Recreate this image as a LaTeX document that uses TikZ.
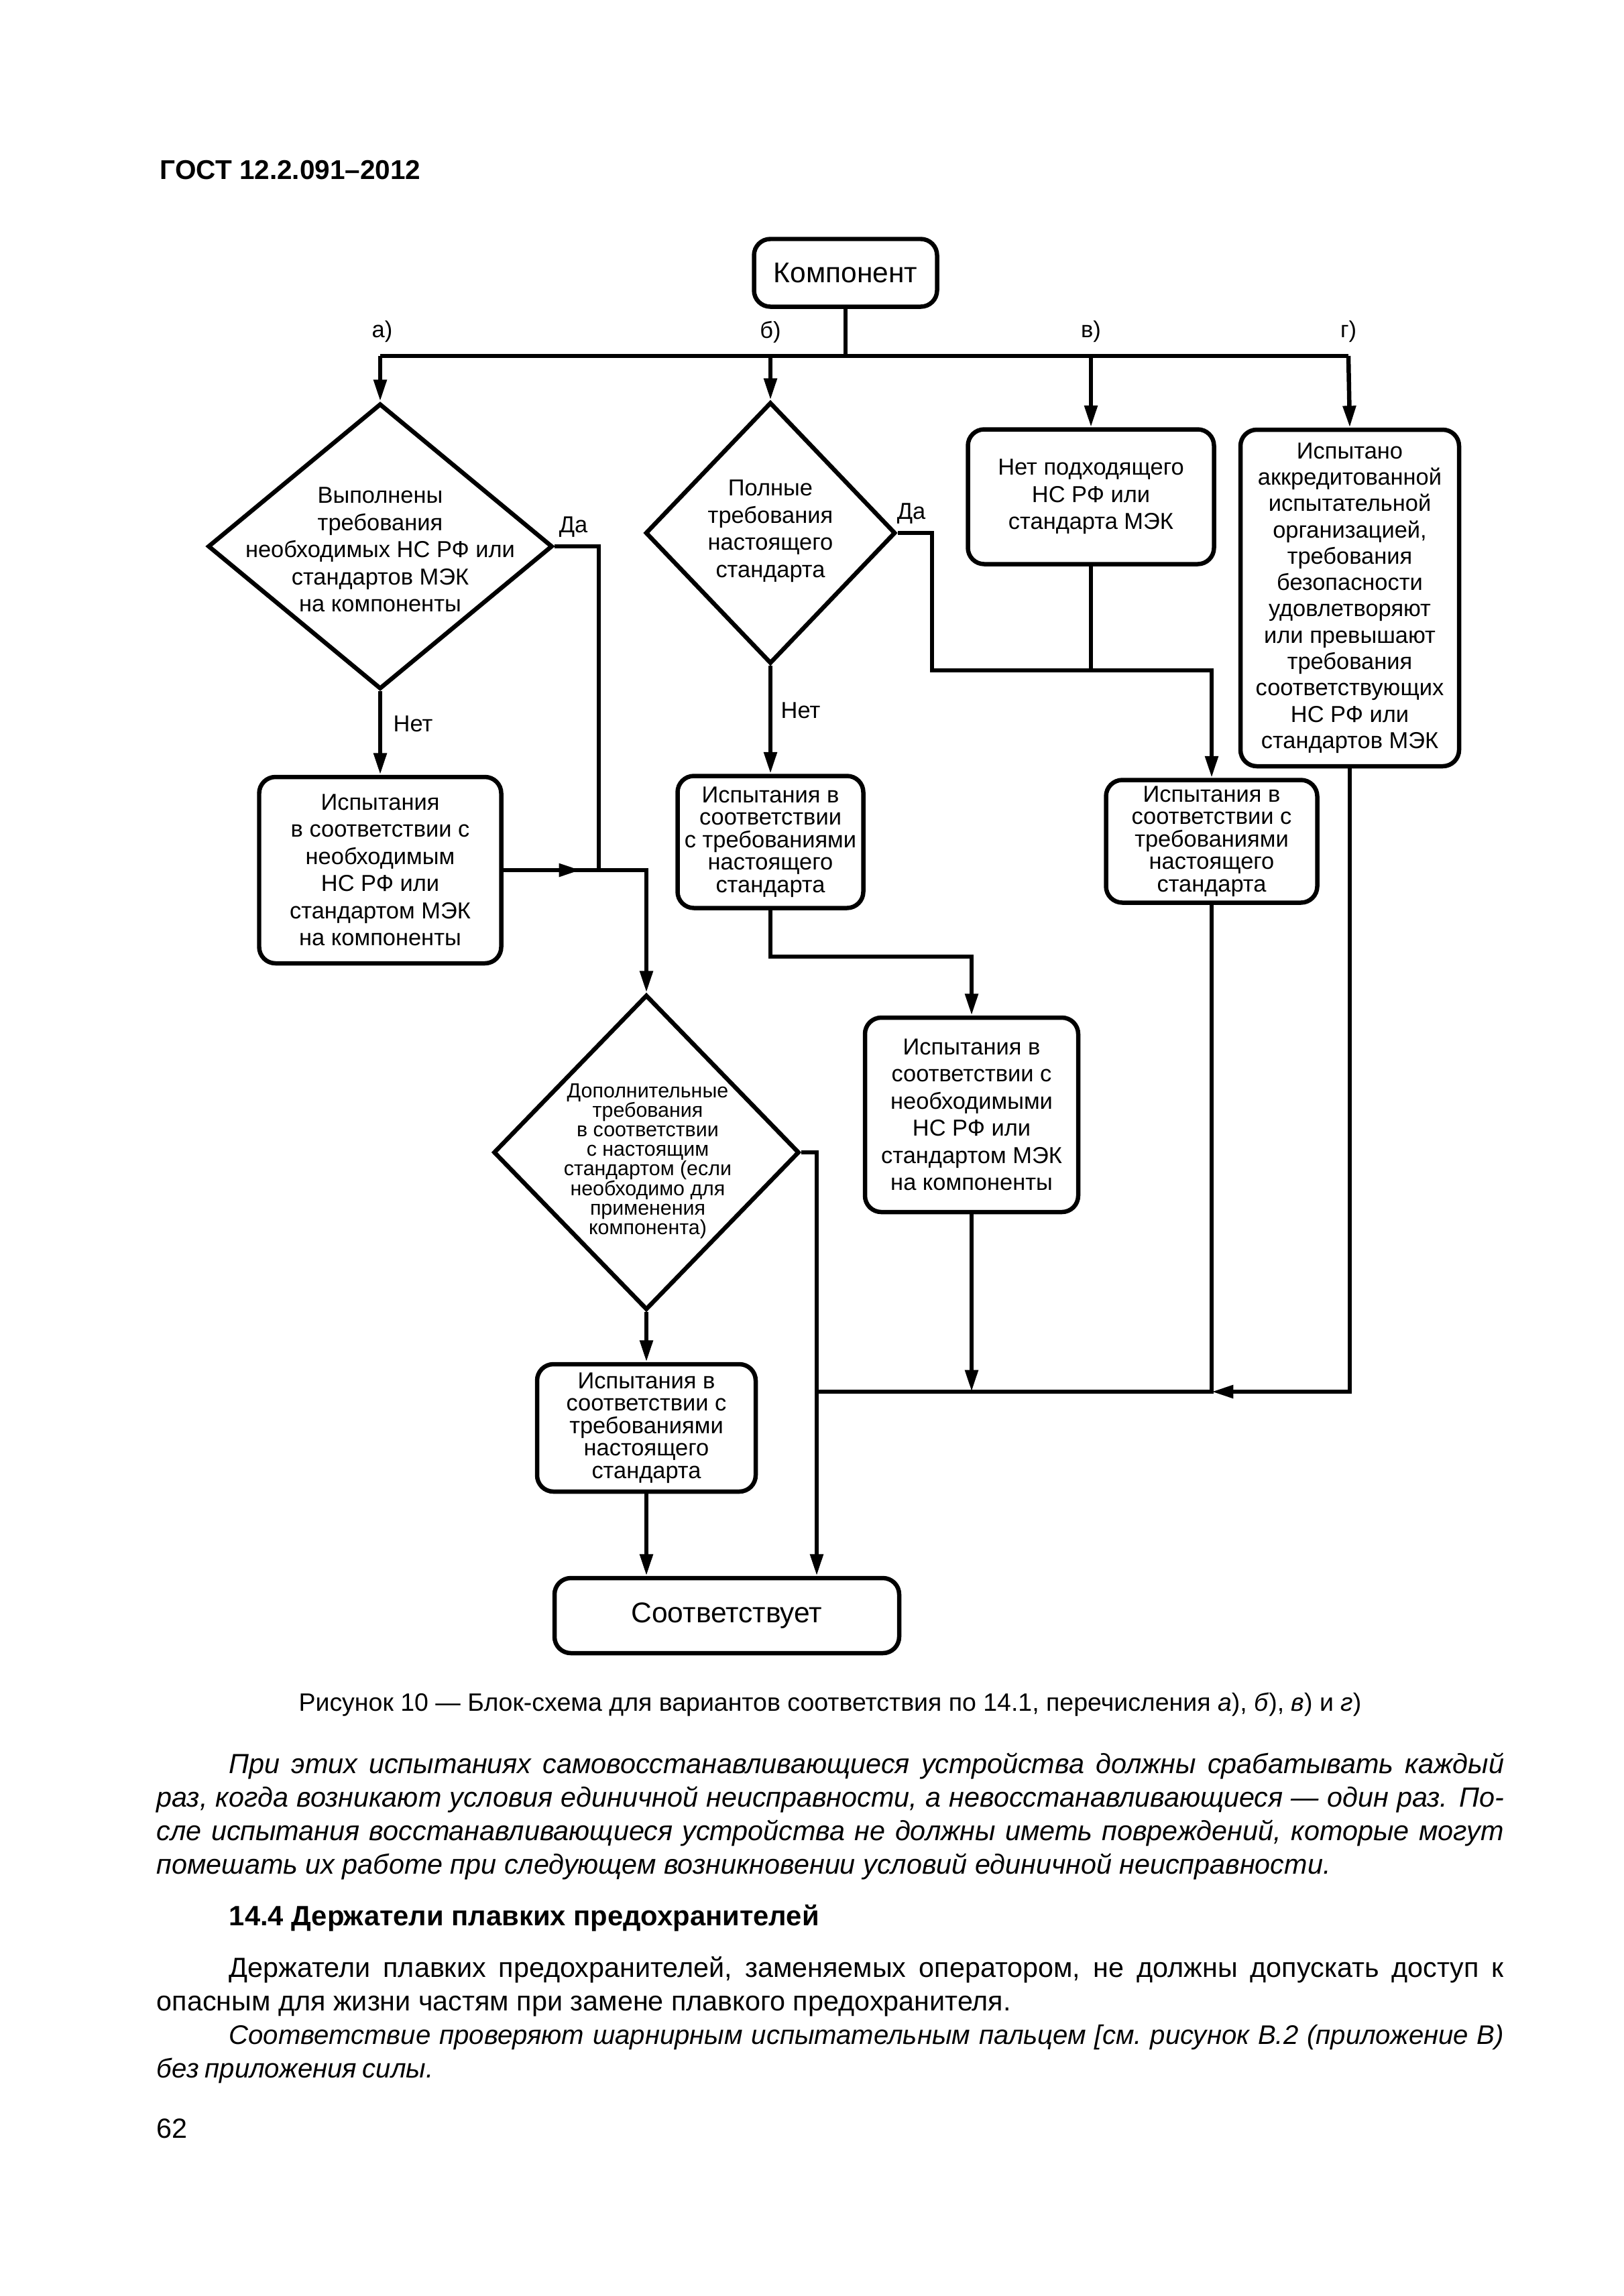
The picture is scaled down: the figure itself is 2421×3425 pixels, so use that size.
\documentclass[tikz,border=0pt]{standalone}
\usepackage{fontspec}
\setmainfont{Liberation Sans}
\usepackage{tikz}
\usetikzlibrary{shapes.geometric, arrows.meta}
\newcommand{\pxl}{0.08674mm}

\begin{document}
\begin{tikzpicture}[x=0.08674mm, y=-0.08674mm,
    >={Triangle[length=8pt, width=4.6pt]},
    flow/.style={line width=1.6pt},
    box/.style={draw, line width=1.6pt, rounded corners=6pt, align=center, inner sep=0pt},
    decision/.style={draw, diamond, line width=1.6pt, inner sep=0pt},
    txt/.style={font=\fontsize{8.5}{10}\selectfont},
    txttight/.style={font=\fontsize{8.5}{8.3}\selectfont},
    txtbig/.style={font=\fontsize{10.5}{12}\selectfont},
    tag/.style={font=\fontsize{8.5}{10}\selectfont, inner sep=0pt},
    body/.style={anchor=base west, inner sep=0pt, text width=174.3mm, align=justify}]

    \fill[white] (0,0) rectangle (2421,3425);
    \useasboundingbox (0,0) rectangle (2421,3425);

    % Page header
    \node[anchor=base west, inner sep=0pt, font=\bfseries\fontsize{10}{12}\selectfont] (head) at (238,267) {ГОСТ 12.2.091–2012};

    % Start and the four branches
    \node[box, txtbig, minimum width=273*\pxl, minimum height=101*\pxl] (comp) at (1261,407) {Компонент};
    \coordinate (busC) at (1261,531);
    \coordinate (busA) at (567,531);
    \coordinate (busB) at (1149,531);
    \coordinate (busV) at (1627,531);
    \coordinate (busG) at (2011,531);
    \node[tag] (labA) at (570,495) {а)};
    \node[tag] (labB) at (1149,495) {б)};
    \node[tag] (labV) at (1627,495) {в)};
    \node[tag] (labG) at (2011,495) {г)};

    % Branch a)
    \node[decision, minimum width=514*\pxl, minimum height=426*\pxl] (d1) at (567,815) {};
    \node[txt, align=center] (d1t) at (567,820) {Выполнены\\требования\\необходимых НС РФ или\\стандартов МЭК\\на компоненты};
    \node[tag] (yes1) at (855,786) {Да};
    \node[tag] (no1) at (616,1080) {Нет};
    \node[box, txt, minimum width=361*\pxl, minimum height=278*\pxl] (tA) at (567,1298) {Испытания\\в соответствии с\\необходимым\\НС РФ или\\стандартом МЭК\\на компоненты};

    % Branch b)
    \node[decision, minimum width=373*\pxl, minimum height=390*\pxl] (d2) at (1149,795) {};
    \node[txt, align=center] (d2t) at (1149,792) {Полные\\требования\\настоящего\\стандарта};
    \node[tag] (yes2) at (1359,766) {Да};
    \node[tag] (no2) at (1194,1060) {Нет};
    \node[box, txttight, minimum width=277*\pxl, minimum height=197*\pxl] (tB) at (1149,1256) {Испытания в\\соответствии\\с требованиями\\настоящего\\стандарта};
    \node[box, txt, minimum width=318*\pxl, minimum height=290*\pxl] (tM) at (1449,1663) {Испытания в\\соответствии с\\необходимыми\\НС РФ или\\стандартом МЭК\\на компоненты};

    % Branch v)
    \node[box, txt, minimum width=367*\pxl, minimum height=201*\pxl] (nB) at (1627,741) {Нет подходящего\\НС РФ или\\стандарта МЭК};
    \node[box, txttight, minimum width=315*\pxl, minimum height=183*\pxl] (tV) at (1807,1255) {Испытания в\\соответствии с\\требованиями\\настоящего\\стандарта};

    % Branch g)
    \node[box, font=\fontsize{8.5}{9.7}\selectfont, minimum width=326*\pxl, minimum height=502*\pxl] (nG) at (2013,892) {Испытано\\аккредитованной\\испытательной\\организацией,\\требования\\безопасности\\удовлетворяют\\или превышают\\требования\\соответствующих\\НС РФ или\\стандартов МЭК};

    % Additional requirements and result
    \node[decision, minimum width=456*\pxl, minimum height=470*\pxl] (d3) at (964,1719) {};
    \node[font=\fontsize{7.5}{7.2}\selectfont, align=center] (d3t) at (966,1732) {Дополнительные\\требования\\в соответствии\\с настоящим\\стандартом (если\\необходимо для\\применения\\компонента)};
    \node[box, txttight, minimum width=326*\pxl, minimum height=190*\pxl] (tD) at (964,2130) {Испытания в\\соответствии с\\требованиями\\настоящего\\стандарта};
    \node[box, txtbig, minimum width=514*\pxl, minimum height=112*\pxl] (sootv) at (1084,2410) {Соответствует};

    \coordinate (yesA) at (893,1298);
    \coordinate (tipA) at (866,1298);
    \coordinate (yesB) at (1390,1000);
    \coordinate (midB) at (1149,1427);
    \coordinate (low) at (1218,2076);

    % Connectors
    \draw[flow] (comp.south) -- (busC);
    \draw[flow] (busA) -- (busG);
    \draw[flow,->] (busA) -- (d1.north);
    \draw[flow,->] (busB) -- (d2.north);
    \draw[flow,->] (busV) -- (nB.north);
    \draw[flow,->] (busG) -- (nG.north);

    \draw[flow,->] (d1.south) -- (tA.north);
    \draw[flow] (tA.east) -- (yesA);
    \draw[flow,->] (tA.east) -- (tipA);
    \draw[flow,->] (d1.east) -| (yesA) -| (d3.north);

    \draw[flow,->] (d2.south) -- (tB.north);
    \draw[flow,->] (tB.south) -- (midB) -| (tM.north);
    \draw[flow,->] (d2.east) -| (yesB) -| (tV.north);
    \draw[flow] (nB.south) -- (nB.south |- yesB);

    \draw[flow,->] (tM.south) -- (tM.south |- low);
    \draw[flow] (tV.south) -- (tV.south |- low) -- (low);
    \draw[flow,->] (nG.south) |- (tV.south |- low);

    \draw[flow,->] (d3.south) -- (tD.north);
    \draw[flow,->] (tD.south) -- (tD.south |- sootv.north);
    \draw[flow,->] (d3.east) -| (low |- sootv.north);

    % Caption and text below
    \node[anchor=base, inner sep=0pt, font=\fontsize{9.25}{11}\selectfont] (cap) at (1238,2552) {Рисунок 10 — Блок-схема для вариантов соответствия по 14.1, перечисления \textit{а}), \textit{б}), \textit{в}) и \textit{г})};

    \node[body, font=\itshape\fontsize{10.2}{12.34}\selectfont] (p1) at (233,2645) {\hyphenpenalty=10000\hspace*{26.6pt}При этих испытаниях самовосстанавливающиеся устройства должны срабатывать каждый\linebreak раз, когда возникают условия единичной неисправности, а невосстанавливающиеся — один раз. По-\linebreak сле испытания восстанавливающиеся устройства не должны иметь повреждений, которые могут\linebreak помешать их работе при следующем возникновении условий единичной неисправности.};

    \node[anchor=base west, inner sep=0pt, font=\bfseries\fontsize{10.3}{12}\selectfont] (h144) at (341,2872) {14.4 Держатели плавких предохранителей};

    \node[body, font=\fontsize{10.2}{12.34}\selectfont] (p2) at (233,2949) {\hyphenpenalty=10000\frenchspacing\hspace*{26.6pt}Держатели плавких предохранителей, заменяемых оператором, не должны допускать доступ к\linebreak опасным для жизни частям при замене плавкого предохранителя.\par
    \fontsize{9.9}{12.34}\itshape\spaceskip=0.22em plus 0.3em minus 0.02em
    \hspace*{26.6pt}Соответствие проверяют шарнирным испытательным пальцем [см. рисунок В.2 (приложение В)\linebreak без приложения силы.};

    \node[anchor=base west, inner sep=0pt, font=\fontsize{10.2}{12}\selectfont] (pg) at (233,3189) {62};
\end{tikzpicture}
\end{document}
